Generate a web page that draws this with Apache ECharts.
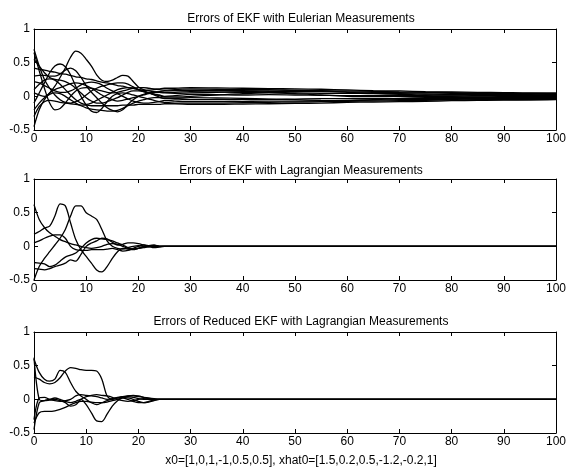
<!DOCTYPE html>
<html>
<head>
<meta charset="utf-8">
<script src="https://cdn.jsdelivr.net/npm/echarts@6/dist/echarts.min.js"></script>
<style>
body { margin: 0; background: #fff; }
#container { width: 569px; height: 468px; }
</style>
</head>
<body>
<div id="container"></div>
<script>
// time samples shared by every curve
var xs = [0,1,2,3,4,5,6,7,8,9,10,11,12,13,14,15,16,17,18,19,20,21,22,23,24,25,27,30,35,40,45,50,55,60,65,70,75,80,85,90,95,100];

var xTicks = [0,10,20,30,40,50,60,70,80,90,100];
var yTicks = [-0.5,0,0.5,1];

var titles = ['Errors of EKF with Eulerian Measurements',
              'Errors of EKF with Lagrangian Measurements',
              'Errors of Reduced EKF with Lagrangian Measurements'];
var footer = 'x0=[1,0,1,-1,0.5,0.5], xhat0=[1.5,0.2,0.5,-1.2,-0.2,1]';

// panel 1 : EKF, Eulerian
var eul1 = [0.05,0.02,0.0,0.05,0.15,0.28,0.42,0.58,0.67,0.64,0.55,0.45,0.32,0.24,0.22,0.24,0.28,0.31,0.30,0.22,0.14,0.10,0.09,0.10,0.11,0.12,0.12,0.13,0.125,0.12,0.115,0.11,0.105,0.095,0.085,0.08,0.07,0.065,0.06,0.055,0.05,0.05];
var eul2 = [-0.10,0.05,0.20,0.35,0.45,0.48,0.44,0.32,0.15,0.0,-0.13,-0.22,-0.24,-0.18,-0.08,0.0,0.04,0.05,0.04,0.02,0.0,-0.02,-0.04,-0.06,-0.08,-0.09,-0.10,-0.10,-0.10,-0.095,-0.09,-0.085,-0.08,-0.075,-0.07,-0.065,-0.06,-0.055,-0.05,-0.05,-0.045,-0.045];
var eul3 = [0.70,0.45,0.25,0.12,0.02,-0.05,-0.09,-0.10,-0.08,-0.04,0.02,0.08,0.12,0.15,0.17,0.19,0.20,0.20,0.18,0.14,0.10,0.07,0.05,0.03,0.02,0.0,0.01,0.03,0.025,0.02,0.025,0.02,0.015,0.01,0.01,0.015,0.01,0.005,0.005,0.0,0.0,0.0];
var eul4 = [0.65,0.38,0.12,-0.10,-0.20,-0.18,-0.10,0.0,0.08,0.12,0.13,0.12,0.10,0.08,0.06,0.05,0.06,0.08,0.10,0.12,0.13,0.13,0.12,0.11,0.10,0.09,0.10,0.11,0.105,0.10,0.10,0.09,0.085,0.08,0.075,0.065,0.06,0.055,0.05,0.045,0.045,0.04];
var eul5 = [0.42,0.40,0.39,0.37,0.36,0.34,0.33,0.31,0.29,0.28,0.26,0.25,0.23,0.21,0.20,0.18,0.16,0.15,0.13,0.12,0.10,0.09,0.08,0.07,0.06,0.05,0.045,0.05,0.06,0.07,0.08,0.085,0.08,0.06,0.045,0.03,0.02,0.02,0.015,0.015,0.01,0.01];
var eul6 = [0.30,0.31,0.31,0.30,0.30,0.33,0.39,0.42,0.38,0.28,0.16,0.06,-0.02,-0.10,-0.17,-0.21,-0.23,-0.20,-0.12,-0.05,0.0,0.03,0.05,0.06,0.07,0.08,0.085,0.09,0.09,0.085,0.075,0.07,0.07,0.065,0.06,0.055,0.05,0.045,0.04,0.035,0.035,0.03];
var eul7 = [-0.45,-0.20,-0.05,0.05,0.10,0.13,0.16,0.19,0.20,0.19,0.16,0.12,0.07,0.02,-0.02,-0.05,-0.07,-0.06,-0.04,-0.02,0.0,0.02,0.04,0.05,0.06,0.06,0.06,0.07,0.065,0.06,0.06,0.05,0.045,0.045,0.04,0.04,0.035,0.03,0.03,0.025,0.025,0.02];
var eul8 = [-0.30,-0.15,-0.08,-0.06,-0.07,-0.09,-0.10,-0.11,-0.12,-0.13,-0.13,-0.14,-0.14,-0.14,-0.14,-0.14,-0.14,-0.13,-0.13,-0.13,-0.12,-0.12,-0.12,-0.12,-0.12,-0.11,-0.11,-0.12,-0.12,-0.115,-0.11,-0.105,-0.10,-0.09,-0.085,-0.08,-0.075,-0.065,-0.06,-0.055,-0.055,-0.05];
var eul9 = [0.55,0.45,0.35,0.28,0.25,0.24,0.22,0.18,0.12,0.05,-0.02,-0.07,-0.10,-0.10,-0.08,-0.05,-0.02,0.02,0.06,0.08,0.08,0.07,0.05,0.03,0.01,-0.01,-0.01,0.0,0.02,0.04,0.05,0.04,0.02,0.0,-0.005,0.0,-0.005,-0.005,-0.01,-0.01,-0.01,-0.01];
var eul10 = [0.10,0.18,0.24,0.26,0.24,0.18,0.10,0.02,-0.05,-0.10,-0.12,-0.10,-0.06,-0.02,0.02,0.06,0.10,0.12,0.13,0.12,0.10,0.08,0.05,0.02,-0.01,-0.03,-0.03,-0.02,-0.025,-0.03,-0.04,-0.05,-0.06,-0.065,-0.05,-0.03,-0.02,-0.02,-0.02,-0.02,-0.02,-0.02];
var eul11 = [-0.20,-0.10,-0.02,0.03,0.05,0.04,0.0,-0.05,-0.10,-0.14,-0.17,-0.19,-0.20,-0.21,-0.22,-0.22,-0.21,-0.18,-0.14,-0.10,-0.07,-0.05,-0.03,-0.02,-0.02,-0.03,-0.04,-0.05,-0.05,-0.045,-0.045,-0.04,-0.035,-0.035,-0.035,-0.035,-0.035,-0.03,-0.03,-0.03,-0.03,-0.025];
var eul12 = [0.22,0.20,0.16,0.12,0.08,0.06,0.06,0.08,0.12,0.17,0.20,0.21,0.20,0.17,0.12,0.08,0.04,0.0,-0.04,-0.07,-0.09,-0.10,-0.10,-0.09,-0.08,-0.06,-0.07,-0.08,-0.08,-0.075,-0.07,-0.07,-0.065,-0.06,-0.055,-0.05,-0.045,-0.045,-0.04,-0.04,-0.035,-0.035];

// panel 2 : EKF, Lagrangian
var lag1 = [0.62,0.40,0.28,0.20,0.15,0.10,0.07,0.04,0.02,0.0,-0.02,-0.03,-0.02,0.0,0.03,0.04,0.03,0.0,-0.03,-0.04,-0.03,-0.02,0.0,0.01,0.0,0.0,0,0,0,0,0,0,0,0,0,0,0,0,0,0,0,0];
var lag2 = [0.18,0.22,0.27,0.30,0.45,0.63,0.60,0.35,0.10,-0.05,-0.15,-0.25,-0.35,-0.38,-0.30,-0.18,-0.08,-0.03,-0.04,-0.05,-0.03,-0.01,0.0,0.01,0.0,0.0,0,0,0,0,0,0,0,0,0,0,0,0,0,0,0,0];
var lag3 = [-0.50,-0.30,-0.18,-0.08,0.02,0.12,0.25,0.45,0.60,0.60,0.50,0.45,0.40,0.25,0.08,0.0,-0.03,-0.04,-0.02,0.0,0.01,0.0,-0.01,0.0,0.0,0.0,0,0,0,0,0,0,0,0,0,0,0,0,0,0,0,0];
var lag4 = [-0.24,-0.25,-0.26,-0.30,-0.28,-0.22,-0.16,-0.13,-0.10,-0.03,0.05,0.10,0.12,0.11,0.10,0.08,0.05,0.02,-0.02,-0.04,-0.03,-0.01,0.01,0.02,0.0,0.0,0,0,0,0,0,0,0,0,0,0,0,0,0,0,0,0];
var lag5 = [-0.33,-0.34,-0.35,-0.33,-0.30,-0.28,-0.25,-0.20,-0.22,-0.12,0.0,0.05,0.08,0.12,0.11,0.06,0.02,0.03,0.05,0.05,0.04,0.02,0.0,-0.02,-0.01,0.0,0,0,0,0,0,0,0,0,0,0,0,0,0,0,0,0];
var lag6 = [0.05,0.08,0.12,0.15,0.17,0.17,0.12,0.0,-0.05,-0.06,-0.06,-0.05,-0.05,-0.05,-0.04,-0.03,-0.05,-0.07,-0.06,-0.03,0.0,0.02,0.01,0.0,0.0,0.0,0,0,0,0,0,0,0,0,0,0,0,0,0,0,0,0];

// panel 3 : reduced EKF, Lagrangian
var red1 = [0.60,0.40,0.30,0.27,0.30,0.43,0.40,0.25,0.12,0.05,0.0,-0.05,-0.08,-0.05,-0.02,0.0,0.02,0.03,0.02,0.0,-0.03,-0.05,-0.04,-0.02,0.0,0.0,0,0,0,0,0,0,0,0,0,0,0,0,0,0,0,0];
var red2 = [0.33,0.30,0.25,0.23,0.25,0.32,0.42,0.47,0.46,0.44,0.43,0.43,0.42,0.30,0.05,0.0,0.02,0.04,0.05,0.05,0.04,0.03,0.02,0.01,0.0,0.0,0,0,0,0,0,0,0,0,0,0,0,0,0,0,0,0];
var red3 = [-0.45,-0.05,-0.02,0.0,0.02,0.0,-0.03,-0.05,-0.03,0.0,-0.08,-0.20,-0.32,-0.33,-0.22,-0.10,-0.02,0.03,0.05,0.06,0.05,0.03,0.01,0.0,0.0,0.0,0,0,0,0,0,0,0,0,0,0,0,0,0,0,0,0];
var red4 = [-0.35,-0.20,-0.18,-0.18,-0.17,-0.15,-0.12,-0.08,-0.05,-0.03,-0.03,-0.04,-0.05,-0.05,-0.04,-0.02,0.0,0.02,0.0,-0.03,-0.05,-0.05,-0.03,-0.01,0.0,0.0,0,0,0,0,0,0,0,0,0,0,0,0,0,0,0,0];
var red5 = [0.62,0.0,-0.02,-0.01,0.0,-0.02,-0.05,-0.10,-0.08,0.0,0.04,0.06,0.07,0.06,0.05,0.03,0.0,-0.02,-0.03,-0.02,0.0,0.01,0.0,0.0,0.0,0.0,0,0,0,0,0,0,0,0,0,0,0,0,0,0,0,0];
var red6 = [-0.30,0.02,0.03,0.0,-0.02,-0.03,-0.02,0.0,0.05,0.07,0.06,0.05,0.04,0.02,0.0,0.01,0.03,0.04,0.04,0.03,0.01,0.0,0.0,0.0,0.0,0.0,0,0,0,0,0,0,0,0,0,0,0,0,0,0,0,0];

var panels = [
    [eul1,eul2,eul3,eul4,eul5,eul6,eul7,eul8,eul9,eul10,eul11,eul12],
    [lag1,lag2,lag3,lag4,lag5,lag6],
    [red1,red2,red3,red4,red5,red6]
];

// plot boxes (pixels)
var boxTops = [29, 179, 332];
var titleTops = [8, 160, 311];
var FONT = '"Liberation Sans", Arial, sans-serif';

function pairUp(vals) {
    var out = [];
    for (var i = 0; i < xs.length; i++) out.push([xs[i], vals[i]]);
    return out;
}

var grids = [], xAxes = [], yAxes = [], series = [], titleList = [];
for (var p = 0; p < 3; p++) {
    grids.push({ left: 34, top: boxTops[p], width: 523, height: 101 });
    titleList.push({
        text: titles[p], left: 296, top: titleTops[p], textAlign: 'center',
        textStyle: { fontSize: 12, fontWeight: 'normal', color: '#000', fontFamily: FONT }
    });
    // bottom / left axes carry labels, top / right only ticks
    [false, true].forEach(function (mirror) {
        xAxes.push({
            type: 'value', gridIndex: p, min: 0, max: 100, interval: 10,
            position: mirror ? 'top' : 'bottom',
            axisLine: { show: true, onZero: false, lineStyle: { color: '#000', width: 1 } },
            axisTick: { show: true, inside: true, length: 4, lineStyle: { color: '#000' } },
            axisLabel: { show: !mirror, color: '#000', fontSize: 12, fontFamily: FONT, margin: 3 },
            splitLine: { show: false }
        });
        yAxes.push({
            type: 'value', gridIndex: p, min: -0.5, max: 1, interval: 0.5,
            position: mirror ? 'right' : 'left',
            axisLine: { show: true, onZero: false, lineStyle: { color: '#000', width: 1 } },
            axisTick: { show: true, inside: true, length: 4, lineStyle: { color: '#000' } },
            axisLabel: { show: !mirror, color: '#000', fontSize: 12, fontFamily: FONT, margin: 4 },
            splitLine: { show: false }
        });
    });
    panels[p].forEach(function (vals) {
        series.push({
            type: 'line', xAxisIndex: p * 2, yAxisIndex: p * 2,
            data: pairUp(vals), smooth: 0.3, showSymbol: false,
            lineStyle: { color: '#000', width: 1.3 }, silent: true
        });
    });
}
titleList.push({
    text: footer, left: 296, top: 450, textAlign: 'center',
    textStyle: { fontSize: 12, fontWeight: 'normal', color: '#000', fontFamily: FONT }
});

var myChart = echarts.init(document.getElementById('container'));
myChart.setOption({
    animation: false,
    backgroundColor: '#fff',
    title: titleList,
    grid: grids,
    xAxis: xAxes,
    yAxis: yAxes,
    series: series
});
</script>
</body>
</html>
